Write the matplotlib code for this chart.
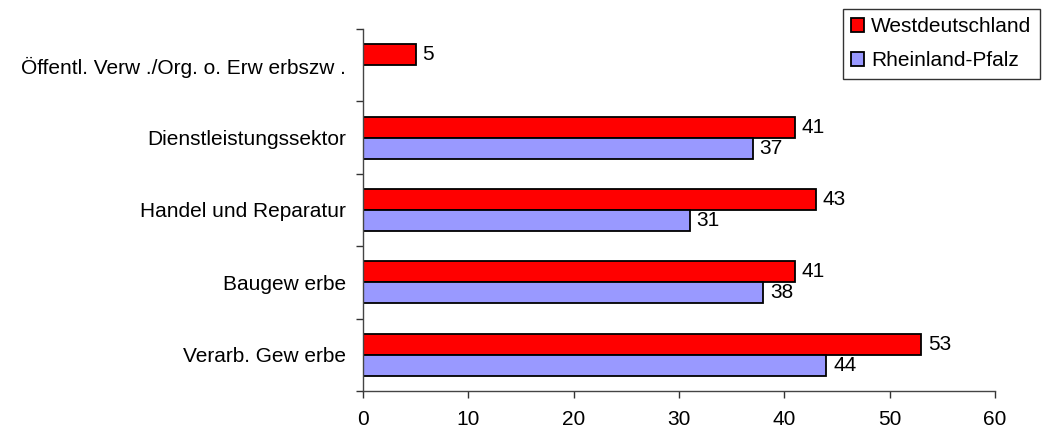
import matplotlib
matplotlib.use("Agg")
import matplotlib.pyplot as plt
import numpy as np

plt.rcParams['font.family'] = ['Liberation Sans', 'DejaVu Sans']

categories = ["Verarb. Gew erbe", "Baugew erbe", "Handel und Reparatur",
              "Dienstleistungssektor", "Öffentl. Verw ./Org. o. Erw erbszw ."]
west = [53, 41, 43, 41, 5]
rlp = [44, 38, 31, 37, None]
series_names = ["Westdeutschland", "Rheinland-Pfalz"]
x_ticks = [0, 10, 20, 30, 40, 50, 60]

FS = 15

fig = plt.figure(figsize=(10.43, 4.32), dpi=100)
ax = fig.add_axes([0.348, 0.0949, 0.606, 0.838])

pos = np.arange(len(categories))
h = 0.29
red = "#FF0000"
lav = "#9999FF"

west_bars = ax.barh(pos + h / 2, west, height=h, color=red, edgecolor="black",
                    linewidth=1.3, label=series_names[0])
rlp_pos = [p - h / 2 for p, v in zip(pos, rlp) if v is not None]
rlp_vals = [v for v in rlp if v is not None]
rlp_bars = ax.barh(rlp_pos, rlp_vals, height=h, color=lav, edgecolor="black",
                   linewidth=1.3, label=series_names[1])

for bars in (west_bars, rlp_bars):
    for b in bars:
        ax.annotate(f"{b.get_width():g}", (b.get_width(), b.get_y() + b.get_height() / 2),
                    xytext=(5, 0), textcoords="offset points", va="center", ha="left",
                    fontsize=FS)

ax.set_xlim(0, 60)
ax.set_ylim(-0.5, len(categories) - 0.5)
ax.set_xticks(x_ticks)
ax.set_xticklabels([str(t) for t in x_ticks], fontsize=FS)
ax.set_yticks(pos)
ax.set_yticklabels(categories, fontsize=FS)
ax.set_yticks(np.arange(-0.5, len(categories)), minor=True)
ax.tick_params(axis="y", which="major", length=0, pad=12)
ax.tick_params(axis="y", which="minor", length=5, width=1, color="#333333")
ax.tick_params(axis="x", which="major", length=5, width=1, pad=9, color="#333333")

for s in ("top", "right"):
    ax.spines[s].set_visible(False)
for s in ("left", "bottom"):
    ax.spines[s].set_linewidth(1)
    ax.spines[s].set_color("#444444")

leg = fig.legend(handles=[west_bars, rlp_bars], labels=series_names,
                 loc="upper left", bbox_to_anchor=(843 / 1043, 1 - 9 / 432),
                 fontsize=FS, frameon=True, fancybox=False, edgecolor="black",
                 handlelength=0.6, handleheight=0.6, handletextpad=0.35,
                 labelspacing=0.72, borderpad=0.4, borderaxespad=0.0)
leg.get_frame().set_linewidth(1)

fig.savefig("out.png", dpi=100)
